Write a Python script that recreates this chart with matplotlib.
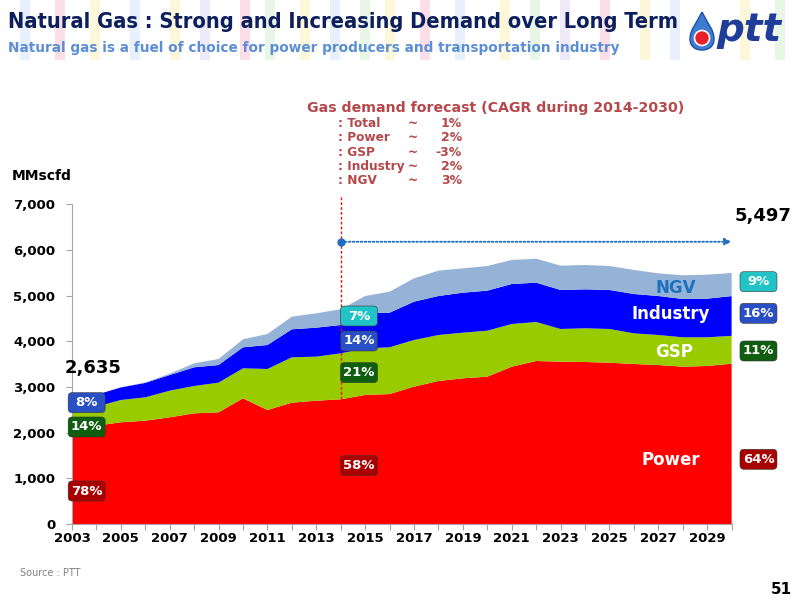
import matplotlib
matplotlib.use("Agg")
import matplotlib.pyplot as plt
from matplotlib.patches import Rectangle, PathPatch, Ellipse, FancyBboxPatch
from matplotlib.path import Path

# ---------------- data ----------------
years = list(range(2003, 2031))
power = [2055, 2152, 2227, 2262, 2336, 2423, 2445, 2752, 2496, 2657, 2700, 2730, 2825, 2846,
         3007, 3131, 3190, 3226, 3445, 3569, 3554, 3547, 3532, 3503, 3481, 3445, 3460, 3510]
gsp = [369, 418, 488, 512, 583, 599, 650, 657, 898, 993, 964, 1007, 1022, 1023,
       1022, 1007, 999, 1007, 934, 854, 716, 738, 738, 672, 657, 643, 628, 610]
industry = [211, 260, 275, 316, 343, 409, 386, 460, 525, 613, 635, 620, 766, 758,
            839, 854, 876, 876, 876, 861, 854, 853, 854, 861, 854, 839, 846, 870]
ngv = [0, 0, 0, 10, 30, 87, 132, 175, 241, 277, 314, 344, 379, 460,
       511, 555, 533, 540, 526, 526, 532, 533, 525, 526, 497, 518, 525, 507]

series_names = ["Power", "GSP", "Industry", "NGV"]
series_colors = ["#ff0000", "#99cc00", "#0000ff", "#95b3d7"]

share_2003 = ["78%", "14%", "8%"]
share_2014 = ["58%", "21%", "14%", "7%"]
share_2030 = ["64%", "11%", "16%", "9%"]
total_2003 = "2,635"
total_2030 = "5,497"
forecast_start = 2014

cagr_labels = [": Total", ": Power", ": GSP", ": Industry", ": NGV"]
cagr_values = ["1%", "2%", "-3%", "2%", "3%"]

# ---------------- figure ----------------
fig = plt.figure(figsize=(8, 6), dpi=100)

# header decorative pastel stripes
stripe_x = [20, 55, 90, 130, 170, 200, 240, 265, 300, 330, 360, 385, 420, 455, 500, 530, 560,
            600, 640, 670, 740, 775]
stripe_c = ["#d8e6fb", "#f9c9d9", "#fbf3c0", "#d8e6fb", "#fbf3c0", "#e4dcf5", "#f9c9d9",
            "#d9f2d5", "#fbf3c0", "#d8e6fb", "#d9f2d5", "#fbf3c0", "#f9c9d9", "#d8e6fb",
            "#fbf3c0", "#d9f2d5", "#e4dcf5", "#f9c9d9", "#fbf3c0", "#d8e6fb", "#fbf3c0",
            "#d9f2d5"]
for sx_, sc in zip(stripe_x, stripe_c):
    fig.patches.append(Rectangle((sx_ / 800, 1 - 60 / 600), 10 / 800, 60 / 600,
                                 transform=fig.transFigure, facecolor=sc, edgecolor="none",
                                 alpha=0.6, zorder=0))

fig.text(8 / 800, 1 - 22 / 600, "Natural Gas : Strong and Increasing Demand over Long Term",
         fontsize=15.7, fontweight="bold", color="#0d1f5c", va="center", ha="left",
         fontstretch="condensed")
fig.text(8 / 800, 1 - 48 / 600,
         "Natural gas is a fuel of choice for power producers and transportation industry",
         fontsize=9.8, fontweight="bold", color="#5b8ed6", va="center", ha="left")

# ptt logo
lx, ly = 702 / 800, 1 - 32 / 600
sx, sy = 1 / 800, 1 / 600
verts = [(lx, ly + 20 * sy),
         (lx - 6 * sx, ly + 8 * sy), (lx - 12 * sx, ly + 2 * sy), (lx - 12 * sx, ly - 7 * sy),
         (lx - 12 * sx, ly - 15 * sy), (lx - 6 * sx, ly - 18 * sy), (lx, ly - 18 * sy),
         (lx + 6 * sx, ly - 18 * sy), (lx + 12 * sx, ly - 15 * sy), (lx + 12 * sx, ly - 7 * sy),
         (lx + 12 * sx, ly + 2 * sy), (lx + 6 * sx, ly + 8 * sy), (lx, ly + 20 * sy)]
codes = [Path.MOVETO] + [Path.CURVE4] * 12
fig.patches.append(PathPatch(Path(verts, codes), transform=fig.transFigure,
                             facecolor="#3d7bd0", edgecolor="#1f4fa0", lw=1, zorder=3))
fig.patches.append(Ellipse((lx, ly - 6 * sy), 15 * sx, 15 * sy, transform=fig.transFigure,
                           facecolor="#e8202a", edgecolor="white", lw=1.2, zorder=4))
fig.text(749 / 800, 1 - 30 / 600, "ptt", fontsize=28, fontweight="bold", fontstyle="italic",
         color="#1f3d99", ha="center", va="center")

# ---------------- axes ----------------
ax = fig.add_axes([72 / 800, 76 / 600, (731.6 - 72) / 800, (524 - 204.3) / 600])
ax.stackplot(years, power, gsp, industry, ngv, colors=series_colors, linewidth=0, zorder=2)
ax.set_xlim(2003, 2030)
ax.set_ylim(0, 7000)

for s in ["top", "right"]:
    ax.spines[s].set_visible(False)
for s in ["left", "bottom"]:
    ax.spines[s].set_color("#a6a6a6")
ax.set_xticks(years)
ax.set_xticklabels([str(y) if y % 2 == 1 else "" for y in years])
ax.set_yticks(range(0, 7001, 1000))
ax.set_yticklabels([f"{v:,}" for v in range(0, 7001, 1000)])
ax.tick_params(axis="both", colors="#a6a6a6", labelcolor="black", length=4, direction="out")
for lab in ax.get_xticklabels() + ax.get_yticklabels():
    lab.set_fontweight("bold")
    lab.set_fontsize(9.5)
ax.tick_params(axis="x", pad=2)
ax.tick_params(axis="y", pad=8)

fig.text(12 / 800, 1 - 176 / 600, "MMscfd", fontsize=10, fontweight="bold", color="black",
         va="center", ha="left")

# forecast divider line and arrow
i14 = years.index(forecast_start)
ax.plot([forecast_start, forecast_start], [power[i14], 7160], color="#ee1111", lw=1,
        ls=(0, (2, 1.5)), clip_on=False, zorder=5)
ax.annotate("", xy=(2030, 6180), xytext=(forecast_start, 6180),
            arrowprops=dict(arrowstyle="-|>", color="#1f6fbf", lw=1.3, ls=(0, (1, 1.2)),
                            mutation_scale=10, shrinkA=0, shrinkB=0),
            annotation_clip=False, zorder=6)
ax.plot([forecast_start], [6180], "o", color="#1f6fbf", ms=5, clip_on=False, zorder=7)

# totals
ax.text(2003.85, 3416, total_2003, fontsize=13, fontweight="bold", color="black",
        ha="center", va="center", clip_on=False, zorder=8)
ax.text(2031.3, 6744, total_2030, fontsize=13, fontweight="bold", color="black",
        ha="center", va="center", clip_on=False, zorder=8)

# percentage boxes (fixed size ~37x20 px)
box_colors = ["#a80000", "#0f5e0f", "#2a4fc4", "#22c3c6"]
px_x = (2030 - 2003) / (731.6 - 72)     # years per pixel
px_y = 7000 / (524 - 204.3)             # units per pixel
bw, bh = 37 * px_x, 20 * px_y


def pbox(x, y, txt, fc):
    p = FancyBboxPatch((x - bw / 2, y - bh / 2), bw, bh,
                       boxstyle="round,pad=0,rounding_size=%f" % (4 * px_x),
                       mutation_aspect=px_y / px_x, facecolor=fc, edgecolor="#333333",
                       lw=0.4, clip_on=False, zorder=9)
    ax.add_patch(p)
    ax.text(x, y, txt, fontsize=9.5, fontweight="bold", color="white", ha="center",
            va="center", clip_on=False, zorder=10)


for y, txt, fc in zip([722, 2124, 2657], share_2003, box_colors):
    pbox(2003.6, y, txt, fc)
for y, txt, fc in zip([1277, 3314, 4007, 4554], share_2014, box_colors):
    pbox(2014.75, y, txt, fc)
for y, txt, fc in zip([1417, 3788, 4613, 5306], share_2030, box_colors):
    pbox(2031.1, y, txt, fc)

# series labels
label_pos = [(2027.5, 1401, "white"), (2027.65, 3773, "white"), (2027.5, 4591, "white"),
             (2027.7, 5160, "#1f6fbf")]
for (x, y, c), name in zip(label_pos, series_names):
    ax.text(x, y, name, fontsize=12, fontweight="bold", color=c, ha="center", va="center",
            zorder=9)

# forecast CAGR note
note_c = "#b5484b"
fig.text(307 / 800, 1 - 108 / 600, "Gas demand forecast (CAGR during 2014-2030)", fontsize=10.2,
         fontweight="bold", color=note_c, ha="left", va="center")
for k, (lab, val) in enumerate(zip(cagr_labels, cagr_values)):
    yy = 1 - (123.3 + k * 14.35) / 600
    fig.text(338 / 800, yy, lab, fontsize=8.7, fontweight="bold", color=note_c, ha="left",
             va="center")
    fig.text(408 / 800, yy, "~", fontsize=8.7, fontweight="bold", color=note_c, ha="left",
             va="center")
    fig.text(462 / 800, yy, val, fontsize=9, fontweight="bold", color=note_c, ha="right",
             va="center")

fig.text(20 / 800, 1 - 573 / 600, "Source : PTT", fontsize=7, color="#808080", ha="left",
         va="center")
fig.text(792 / 800, 1 - 590 / 600, "51", fontsize=11, fontweight="bold", color="black",
         ha="right", va="center")

fig.savefig("out.png", dpi=100)
